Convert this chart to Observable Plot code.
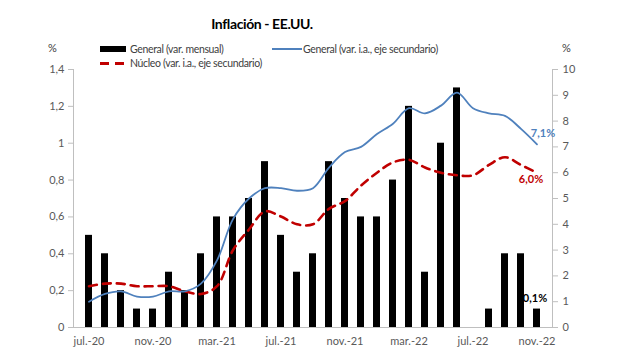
<!DOCTYPE html>
<html><head><meta charset="utf-8">
<script src="https://cdn.jsdelivr.net/npm/d3@7"></script>
<script src="https://cdn.jsdelivr.net/npm/@observablehq/plot@0.6"></script>
<style>
body{margin:0;background:#fff;font-family:Lato,"Open Sans",sans-serif;color:#404040;}
#wrap{position:relative;width:617px;height:364px;overflow:hidden;}
#header{position:relative;height:60px;}
.abs{position:absolute;white-space:nowrap;font-size:10.5px;letter-spacing:-0.35px;line-height:12px;}
.title{font-size:14px;letter-spacing:-0.4px;font-weight:bold;color:#000;line-height:16px;}
</style></head><body>
<div id="wrap">
  <div id="header">
    <div class="abs title" style="left:0;width:524px;text-align:center;top:16px;">Inflación - EE.UU.</div>
    <div class="abs" style="left:48px;top:42px;color:#404040;font-size:11px">%</div>
    <div class="abs" style="left:562px;top:42px;color:#404040;font-size:11px">%</div>
    <div class="abs" style="left:100px;top:46px;width:26px;height:6px;background:#000"></div>
    <div class="abs" style="left:130px;top:43px;">General (var. mensual)</div>
    <div class="abs" style="left:272px;top:48px;width:30px;height:2px;background:#4F81BD"></div>
    <div class="abs" style="left:303px;top:43px;">General (var. i.a., eje secundario)</div>
    <div class="abs" style="left:100px;top:62px;width:9px;height:3px;background:#C00000"></div>
    <div class="abs" style="left:115px;top:62px;width:9px;height:3px;background:#C00000"></div>
    <div class="abs" style="left:130px;top:57px;">Núcleo (var. i.a., eje secundario)</div>
  </div>
  <div id="chart"></div>
</div>
<script>
const months = ["jul.-20","ago.-20","sept.-20","oct.-20","nov.-20","dic.-20","ene.-21","feb.-21","mar.-21","abr.-21","may.-21","jun.-21","jul.-21","ago.-21","sept.-21","oct.-21","nov.-21","dic.-21","ene.-22","feb.-22","mar.-22","abr.-22","may.-22","jun.-22","jul.-22","ago.-22","sept.-22","oct.-22","nov.-22"];
const mensual = [0.5,0.4,0.2,0.1,0.1,0.3,0.2,0.4,0.6,0.6,0.7,0.9,0.5,0.3,0.4,0.9,0.7,0.6,0.6,0.8,1.2,0.3,1.0,1.3,0.0,0.1,0.4,0.4,0.1];
const general = [1.0,1.3,1.4,1.2,1.2,1.4,1.4,1.7,2.6,4.2,5.0,5.4,5.4,5.3,5.4,6.2,6.8,7.0,7.5,7.9,8.5,8.3,8.6,9.1,8.5,8.3,8.2,7.7,7.1];
const nucleo = [1.6,1.7,1.7,1.6,1.6,1.6,1.4,1.3,1.6,3.0,3.8,4.5,4.3,4.0,4.0,4.6,4.9,5.5,6.0,6.4,6.5,6.2,6.0,5.9,5.9,6.3,6.6,6.3,6.0];
const leftTicks = [0,0.2,0.4,0.6,0.8,1,1.2,1.4];
const rightTicks = [0,1,2,3,4,5,6,7,8,9,10];
const xTicks = ["jul.-20","nov.-20","mar.-21","jul.-21","nov.-21","mar.-22","jul.-22","nov.-22"];
const labels = {general:"7,1%", nucleo:"6,0%", mensual:"0,1%"};

const k = 1.4 / 10;
const data = months.map((m, i) => ({m, mensual: mensual[i], general: general[i] * k, nucleo: nucleo[i] * k}));
const last = [data[data.length - 1]];
const fmt = d => String(+d.toFixed(1)).replace(".", ",");

const chart = Plot.plot({
  width: 617, height: 304,
  marginTop: 9, marginBottom: 37, marginLeft: 73, marginRight: 65,
  x: {type: "band", domain: months, paddingInner: 0.57, paddingOuter: 0.33},
  y: {domain: [0, 1.4]},
  style: {fontFamily: "Lato, 'Open Sans', sans-serif", fontSize: "11px", color: "#595959", background: "#fff"},
  marks: [
    Plot.barY(data, {x: "m", y: "mensual", fill: "#000"}),
    Plot.line(data, {x: "m", y: "nucleo", stroke: "#C00000", strokeWidth: 2.6, strokeDasharray: "8,6", curve: "catmull-rom"}),
    Plot.line(data, {x: "m", y: "general", stroke: "#4F81BD", strokeWidth: 1.8, curve: "catmull-rom"}),
    Plot.ruleY([0], {stroke: "#BFBFBF"}),
    Plot.frame({anchor: "left", stroke: "#BFBFBF"}),
    Plot.frame({anchor: "right", stroke: "#BFBFBF"}),
    Plot.axisY({anchor: "left", ticks: leftTicks, tickFormat: fmt, tickSize: 5, tickPadding: 4, stroke: "#BFBFBF", label: null, fill: "#595959"}),
    Plot.axisY({anchor: "right", ticks: rightTicks.map(t => t * k), tickFormat: d => String(Math.round(d / k)), tickSize: 5, tickPadding: 5, stroke: "#BFBFBF", label: null, fill: "#595959"}),
    Plot.axisX({ticks: xTicks, tickSize: 0, tickPadding: 10, label: null, fill: "#595959"}),
    Plot.text(last, {x: "m", y: "general", text: () => labels.general, dx: 6, dy: -11, fill: "#4F81BD", fontSize: 11, fontWeight: "bold"}),
    Plot.text(last, {x: "m", y: "nucleo", text: () => labels.nucleo, dx: -6, dy: 7, fill: "#C00000", fontSize: 11, fontWeight: "bold"}),
    Plot.text(last, {x: "m", y: "mensual", text: () => labels.mensual, dx: -2, dy: -11, fill: "#000", fontSize: 11, fontWeight: "bold"})
  ]
});
document.getElementById("chart").appendChild(chart);
</script>
</body></html>
